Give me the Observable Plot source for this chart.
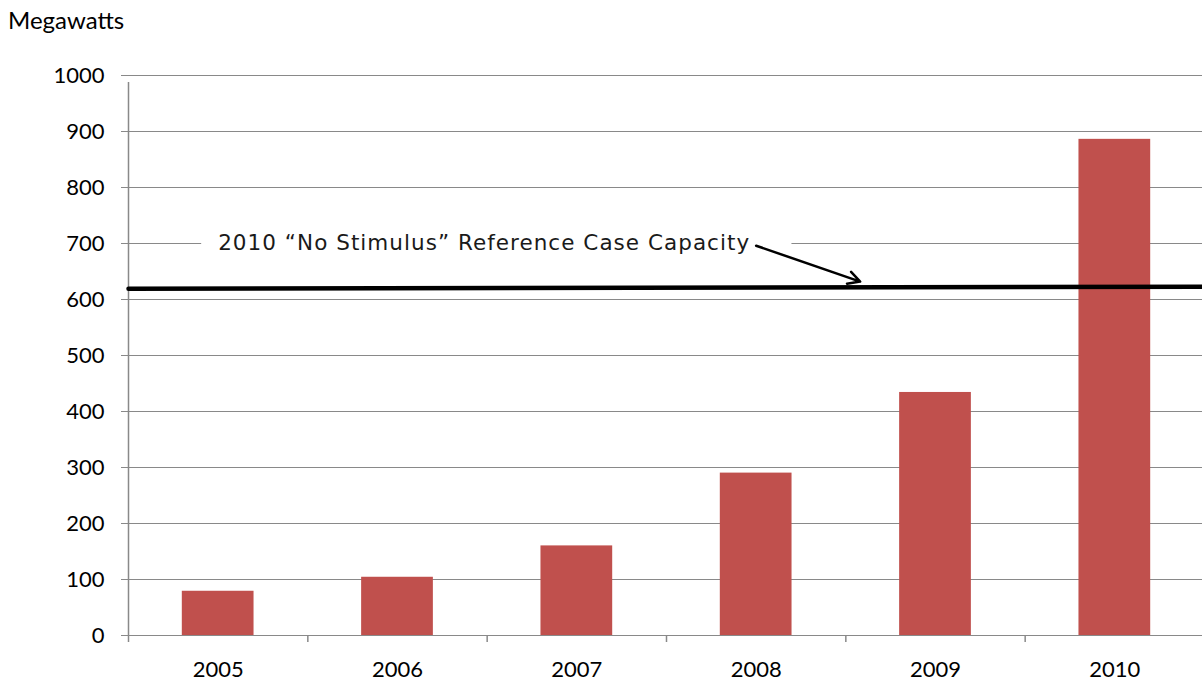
<!DOCTYPE html>
<html>
<head>
<meta charset="utf-8">
<script src="https://cdn.jsdelivr.net/npm/d3@7"></script>
<script src="https://cdn.jsdelivr.net/npm/@observablehq/plot@0.6"></script>
<style>
  html, body { margin: 0; padding: 0; background: #fff; overflow: hidden; }
  #wrap { position: relative; width: 1202px; height: 688px; }
  #ytitle { position: absolute; left: 8px; top: 5px; font-family: Lato, sans-serif; font-size: 24px; color: #000; }
</style>
</head>
<body>
<div id="wrap"><div id="ytitle">Megawatts</div></div>
<script>
const years = [2005, 2006, 2007, 2008, 2009, 2010];
const capacity = [79, 104, 160, 290, 434, 886];
const yTicks = [0, 100, 200, 300, 400, 500, 600, 700, 800, 900, 1000];
const bandEdges = [2004.5, 2005.5, 2006.5, 2007.5, 2008.5, 2009.5, 2010.5];
const refX = [2004.5, 2010.5];
const refY = [619, 623];
const noteText = "2010 \u201CNo Stimulus\u201D Reference Case Capacity";
const noteAt = {x: 2005, y: 701};
const arrowFrom = {x: 2008, y: 696};
const arrowTo = {x: 2008.58, y: 632};

const bars = years.map((year, i) => ({year, value: capacity[i]}));
const refLine = refX.map((x, i) => ({x, y: refY[i]}));

const chart = Plot.plot({
  width: 1202,
  height: 688,
  marginLeft: 121,
  marginRight: 0,
  marginTop: 75,
  marginBottom: 53,
  style: {fontFamily: "Lato, sans-serif", fontSize: "22px", background: "#fff", color: "#000", overflow: "hidden"},
  x: {domain: [2004.5, 2010.5], range: [128, 1204]},
  y: {domain: [0, 1000], range: [635, 75]},
  marks: [
    Plot.ruleY(yTicks, {stroke: "#898989", strokeWidth: 1.2}),
    Plot.ruleX([2004.5], {y1: 0, y2: 1000, stroke: "#898989", strokeWidth: 1.5, insetBottom: -7}),
    Plot.ruleX(bandEdges, {y1: 0, y2: 0, stroke: "#898989", strokeWidth: 1.5, insetBottom: -7}),
    Plot.rectY(bars, {x1: d => d.year - 0.2, x2: d => d.year + 0.2, y: "value", fill: "#C0504D"}),
    Plot.axisY(yTicks, {tickSize: 0, tickPadding: 17, label: null, fontSize: 22, tickFormat: d => String(d)}),
    Plot.axisX(years, {tickSize: 0, tickPadding: 26, label: null, tickFormat: d => String(d), fontSize: 22}),
    Plot.line(refLine, {x: "x", y: "y", stroke: "#000", strokeWidth: 4.5}),
    Plot.text([noteText], {x: noteAt.x, y: noteAt.y, text: d => d, textAnchor: "start", lineAnchor: "middle",
      fontFamily: "DejaVu Sans", fontSize: 21.5, fill: "#1a1a1a"}),
    Plot.arrow([arrowFrom], {x1: "x", y1: "y", x2: () => arrowTo.x, y2: () => arrowTo.y,
      stroke: "#000", strokeWidth: 2.5, headLength: 8, headAngle: 56})
  ]
});

document.getElementById("wrap").appendChild(chart);

// white label box interrupting the gridline behind the annotation
const svg = d3.select(chart);
const note = svg.selectAll("text").filter(function() { return this.textContent === noteText; });
if (!note.empty()) {
  const node = note.node();
  node.setAttribute("textLength", 531);
  node.setAttribute("lengthAdjust", "spacing");
  const sb = chart.getBoundingClientRect();
  const tb = node.getBoundingClientRect();
  const group = node.parentNode;
  const rect = document.createElementNS("http://www.w3.org/2000/svg", "rect");
  rect.setAttribute("x", tb.left - sb.left - 17);
  rect.setAttribute("y", tb.top - sb.top - 2);
  rect.setAttribute("width", tb.width + 17 + 42);
  rect.setAttribute("height", tb.height + 4);
  rect.setAttribute("fill", "#fff");
  group.parentNode.insertBefore(rect, group);
}
</script>
</body>
</html>
